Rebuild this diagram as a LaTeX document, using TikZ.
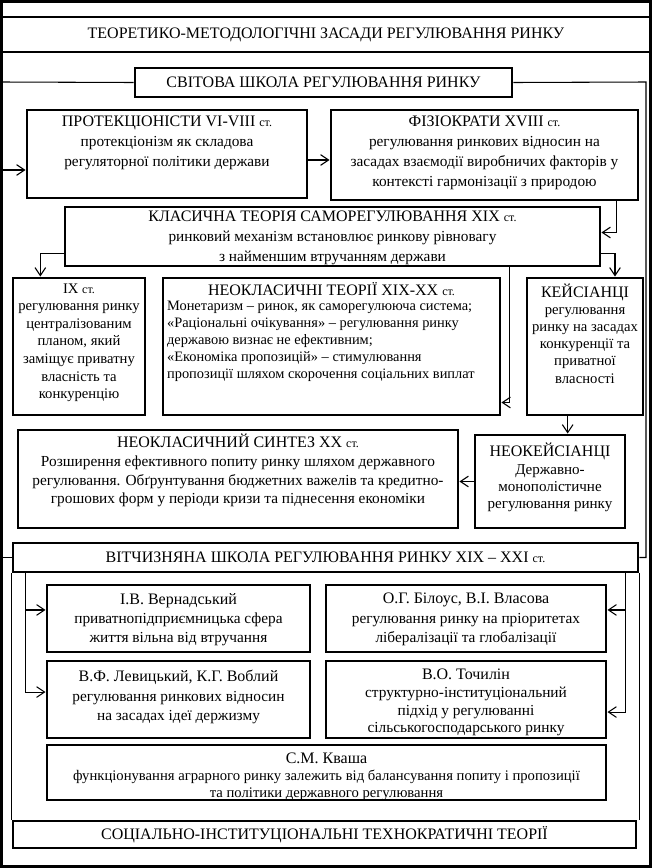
\documentclass[tikz,border=0pt]{standalone}
\usepackage{fontspec}
\setmainfont{Liberation Serif}
\usetikzlibrary{calc,positioning,arrows.meta,fit}
\newcommand{\hdf}{\fontsize{12}{15}\selectfont}
\newcommand{\stl}{{\fontsize{9}{10}\selectfont ст.}}
\tikzset{
  outer/.style={line width=2.6pt, draw=black},
  sbox/.style={draw=black, line width=2.2pt, inner sep=0pt},
  hd/.style={font=\hdf, inner sep=0pt},
  btxt/.style={align=center, anchor=north, inner sep=1pt,
               font=\fontsize{11}{15}\selectfont},
  link/.style={line width=0.8pt, draw=black},
  arr/.style={link, -{Straight Barb[length=6pt, width=8pt]}}
}
\begin{document}
\begin{tikzpicture}[x=0.75pt, y=-0.75pt]
  \useasboundingbox (0,0) rectangle (652,868);
  \fill[white] (0,0) rectangle (652,868);
  \draw[outer] (1.5,1.5) rectangle (650.5,866.5);

  \node[sbox, fit={(0,17) (652,52)}] (title) {};
  \node[hd] (titleT) at (title.center)
    {ТЕОРЕТИКО-МЕТОДОЛОГІЧНІ ЗАСАДИ РЕГУЛЮВАННЯ РИНКУ};

  % world school
  \node[sbox, fit={(135,68) (512,97)}] (svit) {};
  \node[hd] (svitT) at (svit.center) {СВІТОВА ШКОЛА РЕГУЛЮВАННЯ РИНКУ};
  \coordinate (lt) at (2,82);
  \coordinate (rt) at (646,82);

  \node[sbox, fit={(27,110) (307,198)}] (prot) {};
  \node[btxt, font=\fontsize{11.5}{15}\selectfont] (protT) at ([yshift=-4pt]prot.north)
    {{\hdf ПРОТЕКЦІОНІСТИ VI-VIII \stl}\\ протекціонізм як складова\\
     регуляторної політики держави};
  \node[sbox, fit={(331,110) (638,200)}] (fizio) {};
  \node[btxt, font=\fontsize{11.5}{15}\selectfont] (fizioT) at ([yshift=-4pt]fizio.north)
    {{\hdf ФІЗІОКРАТИ XVIII \stl}\\ регулювання ринкових відносин на\\
     засадах взаємодії виробничих факторів у\\ контексті гармонізації з природою};
  \node[sbox, fit={(65,207) (600,266)}] (klas) {};
  \node[btxt, font=\fontsize{11.5}{15}\selectfont] (klasT) at ([yshift=-2.5pt]klas.north)
    {{\hdf КЛАСИЧНА ТЕОРІЯ САМОРЕГУЛЮВАННЯ XIX \stl}\\
     ринковий механізм встановлює ринкову рівновагу\\ з найменшим втручанням держави};

  \node[sbox, fit={(13,278) (145,415)}] (ix) {};
  \node[btxt, font=\fontsize{11}{13.2}\selectfont] (ixT) at ([yshift=-4pt]ix.north)
    {IX \stl\\ регулювання ринку\\ централізованим\\ планом, який\\
     заміщує приватну\\ власність та\\ конкуренцію};
  \node[sbox, fit={(163,278) (500,415)}] (neo) {};
  \node[btxt] (neoH) at ([yshift=-3.5pt]neo.north) {\hdf НЕОКЛАСИЧНІ ТЕОРІЇ XIX-XX \stl};
  \node[btxt, anchor=north west, align=left, font=\fontsize{10.8}{12.8}\selectfont] (neoT)
    at ([xshift=3pt, yshift=-1.5pt]neo.west |- neoH.south)
    {Монетаризм – ринок, як саморегулююча система;\\
     «Раціональні очікування» – регулювання ринку\\
     державою визнає не ефективним;\\
     «Економіка пропозицій» – стимулювання\\
     пропозиції шляхом скорочення соціальних виплат};
  \node[sbox, fit={(527,278) (643,415)}] (keyn) {};
  \node[btxt, font=\fontsize{11}{12.8}\selectfont] (keynT) at ([yshift=-4.5pt]keyn.north)
    {{\hdf КЕЙСІАНЦІ}\\ регулювання\\ ринку на засадах\\ конкуренції та\\ приватної\\ власності};

  \node[sbox, fit={(18,430) (458,528)}] (synth) {};
  \node[btxt, font=\fontsize{11.5}{14}\selectfont] (synthT) at ([yshift=-3pt]synth.north)
    {{\hdf НЕОКЛАСИЧНИЙ СИНТЕЗ XX \stl}\\
     Розширення ефективного попиту ринку шляхом державного\\
     регулювання. Обґрунтування бюджетних важелів та кредитно-\\
     грошових форм у періоди кризи та піднесення економіки};
  \node[sbox, fit={(475,435) (625,528)}] (nkeyn) {};
  \node[btxt, font=\fontsize{11.3}{13}\selectfont] (nkeynT) at ([yshift=-6pt]nkeyn.north)
    {{\hdf НЕОКЕЙСІАНЦІ}\\ Державно-\\ монополістичне\\ регулювання ринку};

  % domestic school
  \node[sbox, fit={(13,543) (638,572)}] (vitch) {};
  \node[hd] (vitchT) at (vitch.center) {ВІТЧИЗНЯНА ШКОЛА РЕГУЛЮВАННЯ РИНКУ XIX – XXI \stl};
  \node[sbox, fit={(47,585) (310,652)}] (vern) {};
  \node[btxt, font=\fontsize{11.5}{14.5}\selectfont] (vernT) at ([yshift=-6pt]vern.north)
    {{\hdf І.В. Вернадський}\\ приватнопідприємницька сфера\\ життя вільна від втручання};
  \node[sbox, fit={(326,585) (606,652)}] (bilous) {};
  \node[btxt, font=\fontsize{11.5}{14.5}\selectfont] (bilousT) at ([yshift=-6pt]bilous.north)
    {{\hdf О.Г. Білоус, В.І. Власова}\\ регулювання ринку на пріоритетах\\
     лібералізації та глобалізації};
  \node[sbox, fit={(47,661) (310,738)}] (levyt) {};
  \node[btxt, font=\fontsize{11.5}{14.5}\selectfont] (levytT) at ([yshift=-7pt]levyt.north)
    {{\hdf В.Ф. Левицький, К.Г. Воблий}\\ регулювання ринкових відносин\\
     на засадах ідеї держизму};
  \node[sbox, fit={(326,661) (606,738)}] (tochyl) {};
  \node[btxt, font=\fontsize{11.5}{13.3}\selectfont] (tochylT) at ([yshift=-6pt]tochyl.north)
    {{\hdf В.О. Точилін}\\ структурно-інституціональний\\ підхід у регулюванні\\
     сільськогосподарського ринку};
  \node[sbox, fit={(47,745) (606,800)}] (kvasha) {};
  \node[btxt, font=\fontsize{11}{13}\selectfont] (kvashaT) at ([yshift=-5.5pt]kvasha.north)
    {{\hdf С.М. Кваша}\\
     функціонування аграрного ринку залежить від балансування попиту і пропозиції\\
     та політики державного регулювання};
  \node[sbox, fit={(13,821) (636,848)}] (soc) {};
  \node[hd] (socT) at (soc.center) {СОЦІАЛЬНО-ІНСТИТУЦІОНАЛЬНІ ТЕХНОКРАТИЧНІ ТЕОРІЇ};

  % links
  \draw[link] (svit.west) -- (lt);
  \draw[arr] (lt) |- ([yshift=-12pt]prot.west);
  \draw[link] (svit.east) -- (rt) |- (vitch.east);
  \draw[link] (vitch.west) -- (vitch.west -| lt);
  \draw[arr] ([yshift=-4.5pt]prot.east) -- ([yshift=-4.5pt]prot.east -| fizio.west);
  \draw[arr] ([xshift=-17pt]fizio.south east) |- ([yshift=3pt]klas.east);
  \draw[arr] ([yshift=-13pt]klas.east) -| ([xshift=22.5pt]keyn.north);
  \draw[arr] ([yshift=-12.4pt]klas.west) -| ([xshift=-29pt]ix.north);
  \draw[arr] ([xshift=133pt]klas.south) |- ([yshift=-42pt]neo.east);
  \draw[arr] ([xshift=-13pt]keyn.south) -- ([xshift=-13pt]keyn.south |- nkeyn.north);
  \draw[arr] (nkeyn.west) -- (nkeyn.west -| synth.east);

  \draw[arr] ([xshift=10.5pt]vitch.south west) |- ([yshift=6.4pt]vern.west);
  \draw[arr] ([xshift=10.5pt]vitch.south west) |- ([yshift=5.6pt]levyt.west);
  \draw[arr] ([xshift=-10.5pt]vitch.south east) |- ([yshift=6.4pt]bilous.east);
  \draw[arr] ([xshift=-10.5pt]vitch.south east) |- ([yshift=-9.4pt]tochyl.east);
  \draw[link] (vitch.south west) -- (vitch.south west |- soc.north);
  \draw[link] (vitch.south east) -- (vitch.south east |- soc.north);
\end{tikzpicture}
\end{document}
